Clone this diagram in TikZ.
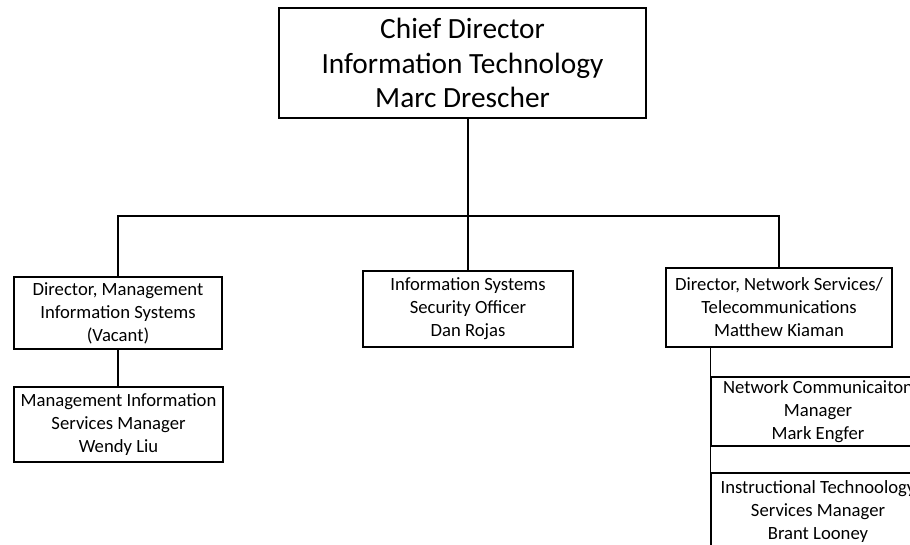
\documentclass[tikz,border=0pt]{standalone}
\usepackage{fontspec}
\setmainfont{Carlito}
\tikzset{
  box/.style={draw, line width=1pt, align=center, inner sep=0pt,
    font=\fontsize{14pt}{17.25pt}\selectfont},
  bigbox/.style={box, font=\fontsize{22pt}{26pt}\selectfont},
  conn/.style={line width=1pt}
}
\begin{document}
\begin{tikzpicture}[x=0.75pt,y=-0.75pt]
\useasboundingbox (0,0) rectangle (910,544);
\clip (0,0) rectangle (910,544);
\node[bigbox, minimum width=367*0.75pt, minimum height=110*0.75pt] (top) at (462.5,63)
  {Chief Director\\Information Technology\\Marc Drescher};
\node[box, minimum width=208*0.75pt, minimum height=72*0.75pt] (misdir) at (118,313)
  {Director, Management\\Information Systems\\(Vacant)};
\node[box, minimum width=210*0.75pt, minimum height=76*0.75pt] (info) at (468,309)
  {Information Systems\\Security Officer\\Dan Rojas};
\node[box, minimum width=226*0.75pt, minimum height=79*0.75pt] (netdir) at (779,307.5)
  {Director, Network Services/\\Telecommunications\\Matthew Kiaman};
\node[box, minimum width=209*0.75pt, minimum height=75*0.75pt] (mismgr) at (118.5,424.5)
  {Management Information\\Services Manager\\Wendy Liu};
\node[box, minimum width=214*0.75pt, minimum height=69*0.75pt] (netcomm) at (818,411.5)
  {Network Communicaiton\\Manager\\Mark Engfer};
\node[box, minimum width=214*0.75pt, minimum height=78*0.75pt] (instr) at (818,512)
  {Instructional Technoology\\Services Manager\\Brant Looney};
\coordinate (bus) at (468,216);
\draw[conn] (top.south -| bus) -- (bus);
\draw[conn] (misdir.north) -- (misdir.north |- bus) -- (netdir.north |- bus) -- (netdir.north);
\draw[conn] (bus) -- (info.north);
\draw[conn] (misdir.south) -- (misdir.south |- mismgr.north);
\draw[conn] (netcomm.west |- netdir.south) -- (instr.south west);
\end{tikzpicture}
\end{document}
